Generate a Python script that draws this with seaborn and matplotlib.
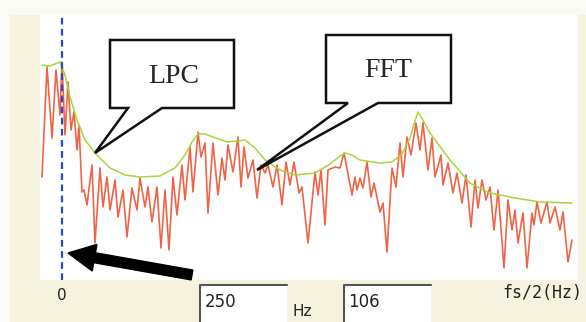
import pandas as pd
import matplotlib.pyplot as plt
import seaborn as sns
from matplotlib.patches import Polygon, Rectangle, FancyArrow

# FFT spectrum (frequency bin, level)
fft_bin = [-20, -15, -10, -6, -2, 0, 3, 6, 9, 12, 15, 17, 20, 22, 25, 30, 33, 38, 41, 45,
           48, 53, 56, 61, 65, 70, 75, 78, 83, 86, 90, 95, 99, 103, 107, 111, 115, 120, 123, 128,
           131, 136, 139, 143, 146, 151, 156, 160, 163, 166, 171, 176, 179, 182, 186, 191, 195, 199, 203, 206,
           211, 215, 220, 224, 228, 232, 237, 240, 246, 253, 256, 259, 263, 266, 273, 278, 282, 290, 293, 295,
           298, 301, 305, 309, 312, 318, 321, 325, 330, 334, 338, 341, 345, 349, 354, 358, 361, 366, 370, 373,
           379, 381, 386, 391, 395, 400, 404, 409, 413, 416, 420, 424, 428, 432, 436, 442, 446, 450, 453, 456,
           461, 465, 470, 472, 475, 479, 485, 488, 493, 498, 501, 506, 510]
fft_level = [103, 213, 142, 210, 165, 218, 145, 198, 150, 168, 130, 155, 88, 90, 75, 115, 37, 112, 73, 103,
             70, 100, 63, 90, 43, 92, 70, 102, 73, 93, 58, 93, 32, 90, 30, 103, 65, 115, 80, 133,
             88, 148, 123, 137, 67, 137, 85, 122, 100, 135, 108, 143, 93, 133, 102, 120, 82, 115, 107, 115,
             93, 115, 75, 118, 95, 118, 87, 93, 37, 108, 85, 110, 55, 110, 113, 112, 127, 85, 103, 90,
             102, 92, 118, 83, 97, 68, 77, 28, 112, 93, 137, 103, 143, 125, 157, 130, 157, 110, 142, 103,
             125, 95, 117, 87, 107, 77, 105, 53, 100, 72, 100, 80, 93, 50, 90, 12, 80, 50, 70, 37,
             67, 12, 67, 55, 78, 57, 78, 57, 73, 50, 68, 18, 40]

# LPC envelope
lpc_bin = [-20, -12, -2, 3, 8, 15, 23, 33, 48, 63, 78, 98, 113, 123, 130, 136, 143, 151, 165, 175, 183, 193,
           203, 218, 233, 253, 268, 278, 283, 290, 298, 318, 330, 340, 348, 352, 356, 362, 368, 388, 408, 428,
           453, 478, 510]
lpc_level = [215, 214, 218, 205, 183, 160, 140, 127, 112, 105, 103, 104, 112, 125, 138, 146, 146, 143, 138, 139, 140, 132,
             120, 110, 105, 107, 116, 124, 127, 125, 120, 117, 118, 126, 142, 156, 168, 158, 147, 120, 97, 87,
             82, 78, 77]

fft = pd.DataFrame({'bin': fft_bin, 'level': fft_level})
lpc = pd.DataFrame({'bin': lpc_bin, 'level': lpc_level})

sns.set_style('white')

W, H = 586, 322
fig = plt.figure(figsize=(W / 100, H / 100), dpi=100, facecolor='#fbfbf6')

# beige panel behind the plot
bg = fig.add_axes([0, 0, 1, 1], zorder=-1)
bg.set_xlim(0, W)
bg.set_ylim(H, 0)
bg.axis('off')
bg.add_patch(Rectangle((10, 15), W - 10, H - 15, facecolor='#f5f3de', edgecolor='none'))

ax = fig.add_axes([40 / W, 42 / H, 538 / W, 265 / H])

sns.lineplot(data=fft, x='bin', y='level', ax=ax, sort=False, color='#ee6446', lw=1.2)
sns.lineplot(data=lpc, x='bin', y='level', ax=ax, sort=False, color='#a6d63a', lw=1.1)
ax.axvline(0, color='#2a48c0', ls=(0, (3, 2)), lw=1.6)

ax.set_xlim(-22, 516)
ax.set_ylim(0, 265)
ax.set_xticks([])
ax.set_yticks([])
ax.set_xlabel('')
ax.set_ylabel('')
for s in ax.spines.values():
    s.set_visible(False)

# overlay in pixel units for callouts, arrow and bottom controls
ov = fig.add_axes([0, 0, 1, 1])
ov.set_xlim(0, W)
ov.set_ylim(H, 0)
ov.axis('off')
ov.patch.set_alpha(0)

lpc_box = [(110, 40), (234, 40), (234, 108), (162, 108), (95, 153), (128, 108), (110, 108)]
fft_box = [(326, 35), (451, 35), (451, 103), (378, 103), (257, 170), (348, 103), (326, 103)]
for pts in (lpc_box, fft_box):
    ov.add_patch(Polygon(pts, closed=True, facecolor='white', edgecolor='#111111', lw=1.8, zorder=5))
ov.text(174, 76, 'LPC', family='Liberation Serif', fontsize=20, ha='center', va='center', zorder=6)
ov.text(388, 70, 'FFT', family='Liberation Serif', fontsize=20, ha='center', va='center', zorder=6)

ov.add_patch(FancyArrow(192, 275, -124, -22, width=10, head_width=27, head_length=27,
                        length_includes_head=True, color='black', zorder=6))

# text boxes below the plot
for x0 in (200, 344):
    ov.add_patch(Rectangle((x0, 285), 87, 40, facecolor='white', edgecolor='none', zorder=2))
    ov.plot([x0, x0, x0 + 87], [325, 285, 285], color='#555555', lw=1.5, zorder=3)

ov.text(62, 296, '0', fontsize=11, ha='center', va='center', color='#222222')
ov.text(205, 302, '250', fontsize=12, ha='left', va='center', color='#222222', zorder=4)
ov.text(293, 311, 'Hz', fontsize=11, ha='left', va='center', color='#222222')
ov.text(348, 302, '106', fontsize=12, ha='left', va='center', color='#222222', zorder=4)
ov.text(502, 293, 'fs/2(Hz)', family='DejaVu Sans Mono', fontsize=12, ha='left', va='center',
        color='#222222')

fig.savefig('out.png', dpi=100, facecolor=fig.get_facecolor())
